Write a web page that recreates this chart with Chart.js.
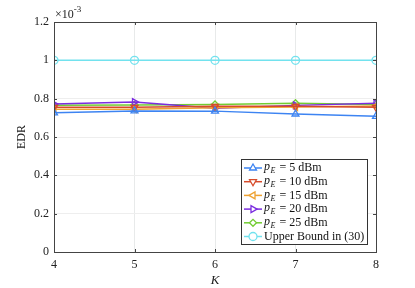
<!DOCTYPE html>
<html>
<head>
<meta charset="utf-8">
<script src="https://cdn.jsdelivr.net/npm/chart.js@4"></script>
<style>
  html, body { margin: 0; padding: 0; background: #fff; }
  #wrap { width: 415px; height: 288px; }
</style>
</head>
<body>
<div id="wrap"><canvas id="edrCanvas"></canvas></div>
<script>
// K values on the x axis
const kValues = [4, 5, 6, 7, 8];
// EDR values, in units of 1e-3
const edr5 = [0.726, 0.736, 0.735, 0.720, 0.708];
const edr10 = [0.755, 0.755, 0.760, 0.760, 0.755];
const edr15 = [0.745, 0.745, 0.752, 0.756, 0.762];
const edr20 = [0.772, 0.782, 0.750, 0.765, 0.776];
const edr25 = [0.765, 0.767, 0.770, 0.776, 0.770];
const upperBound = [1.0, 1.0, 1.0, 1.0, 1.0];
const yTicks = [0, 0.2, 0.4, 0.6, 0.8, 1, 1.2];
const legendPower = ['5', '10', '15', '20', '25'];

const SERIF = '"Liberation Serif", "DejaVu Serif", serif';

const styles = [
  { color: '#3d84f2', marker: 'triangle', rot: 0 },
  { color: '#d64b2b', marker: 'triangle', rot: 180 },
  { color: '#eea232', marker: 'triangle', rot: 270 },
  { color: '#7b2de0', marker: 'triangle', rot: 90 },
  { color: '#72cc32', marker: 'rectRot', rot: 0 },
  { color: '#72e2ee', marker: 'circle', rot: 0 }
];
const seriesData = [edr5, edr10, edr15, edr20, edr25, upperBound];

function makeDataset(vals, st) {
  return {
    data: vals.map((v, i) => ({ x: kValues[i], y: v })),
    borderColor: st.color,
    borderWidth: 1.5,
    pointStyle: st.marker,
    rotation: st.rot,
    pointRadius: st.marker === 'rectRot' ? 3.5 : 4,
    pointBorderColor: st.color,
    pointBackgroundColor: 'rgba(0,0,0,0)',
    pointBorderWidth: 1.3,
    tension: 0
  };
}

// tick marks, exponent, legend
const extras = {
  id: 'extras',
  afterDraw(chart) {
    const ctx = chart.ctx;
    const a = chart.chartArea;
    const xs = chart.scales.x, ys = chart.scales.y;
    ctx.save();
    ctx.strokeStyle = '#444';
    ctx.lineWidth = 1;
    ctx.beginPath();
    kValues.forEach(k => {
      const px = Math.round(xs.getPixelForValue(k)) + 0.5;
      ctx.moveTo(px, a.bottom); ctx.lineTo(px, a.bottom - 3);
      ctx.moveTo(px, a.top); ctx.lineTo(px, a.top + 3);
    });
    yTicks.forEach(t => {
      const py = Math.round(ys.getPixelForValue(t)) + 0.5;
      ctx.moveTo(a.left, py); ctx.lineTo(a.left + 3, py);
      ctx.moveTo(a.right, py); ctx.lineTo(a.right - 3, py);
    });
    ctx.stroke();
    // box
    ctx.strokeStyle = '#444';
    ctx.strokeRect(Math.round(a.left) + 0.5, Math.round(a.top) + 0.5,
      Math.round(a.right - a.left), Math.round(a.bottom - a.top));

    // exponent
    ctx.fillStyle = '#222';
    ctx.font = '12px ' + SERIF;
    ctx.textBaseline = 'alphabetic';
    ctx.textAlign = 'left';
    ctx.fillText('\u00d710', a.left + 1, a.top - 4);
    const w = ctx.measureText('\u00d710').width;
    ctx.font = '9px ' + SERIF;
    ctx.fillText('-3', a.left + 1 + w, a.top - 10);

    // legend
    const lx = 241, ly = 159, lw = 126, lh = 85;
    ctx.fillStyle = '#fff';
    ctx.fillRect(lx, ly, lw, lh);
    ctx.strokeStyle = '#333';
    ctx.strokeRect(lx + 0.5, ly + 0.5, lw, lh);
    styles.forEach((st, i) => {
      const cy = ly + 9 + i * 13.7;
      ctx.strokeStyle = st.color;
      ctx.lineWidth = 1.5;
      ctx.beginPath();
      ctx.moveTo(lx + 3, cy); ctx.lineTo(lx + 21, cy);
      ctx.stroke();
      ctx.lineWidth = 1.3;
      ctx.fillStyle = '#fff';
      Chart.helpers.drawPoint(ctx, {
        pointStyle: st.marker, rotation: st.rot,
        radius: st.marker === 'rectRot' ? 3.5 : 4, borderWidth: 1.3
      }, lx + 12, cy);
      ctx.fillStyle = '#111';
      ctx.textBaseline = 'middle';
      let tx = lx + 23;
      if (i < 5) {
        ctx.font = 'italic 12px ' + SERIF;
        ctx.fillText('p', tx, cy - 1);
        tx += ctx.measureText('p').width + 0.5;
        ctx.font = 'italic 8px ' + SERIF;
        ctx.fillText('E', tx, cy + 3);
        tx += ctx.measureText('E').width + 1;
        ctx.font = '12px ' + SERIF;
        ctx.fillText(' = ' + legendPower[i] + ' dBm', tx, cy);
      } else {
        ctx.font = '12px ' + SERIF;
        ctx.fillText('Upper Bound in (30)', tx, cy);
      }
    });
    ctx.restore();
  }
};

new Chart(document.getElementById('edrCanvas').getContext('2d'), {
  type: 'line',
  data: { datasets: seriesData.map((d, i) => makeDataset(d, styles[i])) },
  options: {
    responsive: true,
    maintainAspectRatio: false,
    animation: false,
    layout: { padding: { left: 0, right: 39, top: 22, bottom: 0 } },
    plugins: { legend: { display: false }, tooltip: { enabled: false } },
    scales: {
      x: {
        type: 'linear', min: 4, max: 8,
        afterBuildTicks: s => { s.ticks = kValues.map(v => ({ value: v })); },
        afterFit: s => { s.height = 36; },
        grid: { color: '#e8eaea', drawTicks: false },
        border: { display: false },
        ticks: { color: '#222', padding: 6, font: { family: SERIF, size: 12 } },
        title: { display: true, text: 'K', color: '#222', padding: { top: -2, bottom: 0 },
          font: { family: SERIF, size: 13, style: 'italic' } }
      },
      y: {
        min: 0, max: 1.2,
        afterBuildTicks: s => { s.ticks = yTicks.map(v => ({ value: v })); },
        afterFit: s => { s.width = 54; },
        grid: { color: '#eeeeee', drawTicks: false },
        border: { display: false },
        ticks: { color: '#222', padding: 5, font: { family: SERIF, size: 12 },
          callback: v => String(Math.round(v * 10) / 10) },
        title: { display: true, text: 'EDR', color: '#222', padding: { top: 15, bottom: 0 },
          font: { family: SERIF, size: 12 } }
      }
    }
  },
  plugins: [extras]
});
</script>
</body>
</html>
